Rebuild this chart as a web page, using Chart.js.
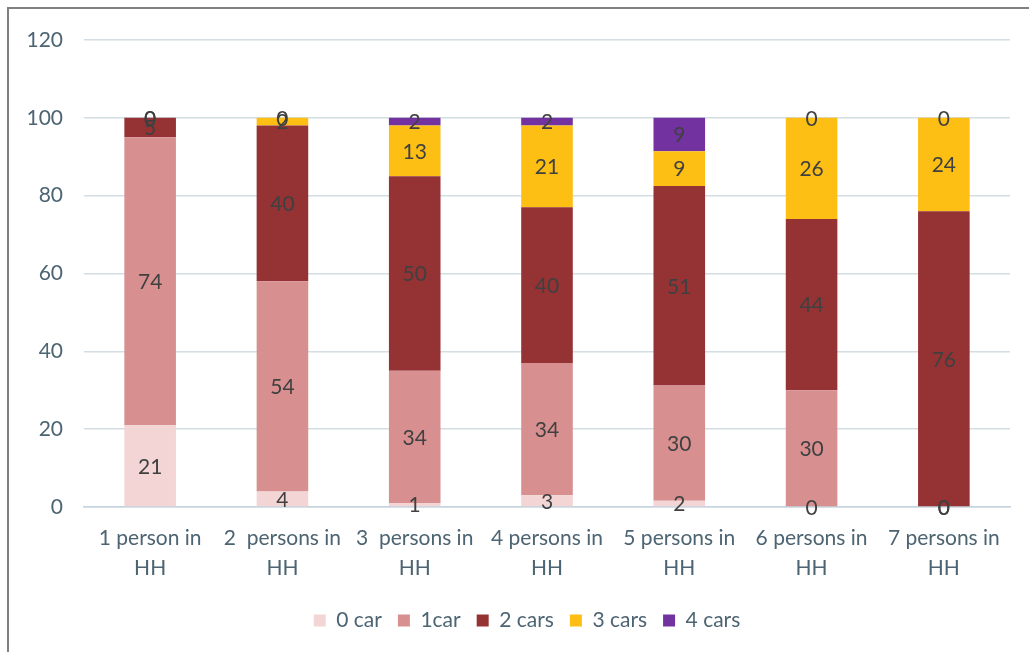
<!DOCTYPE html>
<html>
<head>
<meta charset="utf-8">
<script src="https://cdn.jsdelivr.net/npm/chart.js@4.4.1/dist/chart.umd.min.js"></script>
<style>
  html, body { margin: 0; padding: 0; background: #fff; }
  #wrap { position: relative; width: 1029px; height: 652px; overflow: hidden; }
  #frame { position: absolute; left: 7px; top: 7px; width: 1040px; height: 700px;
           border-left: 2px solid #808080; border-top: 2px solid #808080; pointer-events: none; }
  #box { position: absolute; left: 0; top: 0; width: 1029px; height: 652px; }
</style>
</head>
<body>
<div id="wrap">
  <div id="box"><canvas id="carsChart"></canvas></div>
  <div id="frame"></div>
</div>
<script>
const categories = [
  ["1 person in", "HH"],
  ["2  persons in", "HH"],
  ["3  persons in", "HH"],
  ["4 persons in", "HH"],
  ["5 persons in", "HH"],
  ["6 persons in", "HH"],
  ["7 persons in", "HH"],
];
const seriesNames = ["0 car", "1car", "2 cars", "3 cars", "4 cars"];
// shares in %, labels are shown rounded
const car0 = [21, 4, 1, 3, 1.6, 0, 0];
const car1 = [74, 54, 34, 34, 29.6, 30, 0];
const car2 = [5, 40, 50, 40, 51.3, 44, 76];
const car3 = [0, 2, 13, 21, 8.9, 26, 24];
const car4 = [0, 0, 2, 2, 8.6, 0, 0];
const yTicks = [0, 20, 40, 60, 80, 100, 120];

const colors = ["#f3d5d5", "#d88f90", "#943234", "#fdbf13", "#7232a0"];
const textColor = "#4d6472";
const font = "Lato, 'Liberation Sans', sans-serif";

// draws the value in the middle of every segment
const segmentLabels = {
  id: "segmentLabels",
  afterDatasetsDraw(chart) {
    const ctx = chart.ctx;
    ctx.save();
    ctx.font = "21px " + font;
    ctx.fillStyle = "#404040";
    ctx.textAlign = "center";
    ctx.textBaseline = "middle";
    chart.data.datasets.forEach((ds, i) => {
      const meta = chart.getDatasetMeta(i);
      meta.data.forEach((bar, j) => {
        const y = (bar.y + bar.base) / 2;
        ctx.fillText(String(Math.round(ds.data[j])), bar.x, y + 1);
      });
    });
    ctx.restore();
  },
};

// the legend sits a bit right of the canvas centre in the original
const legendShift = {
  id: "legendShift",
  afterLayout(chart) {
    if (chart.legend) {
      chart.legend.left += 22;
      chart.legend.right += 22;
    }
  },
};

new Chart(document.getElementById("carsChart"), {
  type: "bar",
  data: {
    labels: categories,
    datasets: [car0, car1, car2, car3, car4].map((d, i) => ({
      label: seriesNames[i],
      data: d,
      backgroundColor: colors[i],
      borderWidth: 0,
      barPercentage: 1,
      categoryPercentage: 0.39,
    })),
  },
  options: {
    responsive: true,
    maintainAspectRatio: false,
    animation: false,
    layout: { padding: { top: 40, right: 19, left: 0, bottom: 11 } },
    scales: {
      x: {
        stacked: true,
        grid: { display: false, drawTicks: false },
        border: { display: true, color: "#c6d3dc", width: 1.5 },
        ticks: {
          color: textColor,
          font: { family: font, size: 21, lineHeight: 1.43 },
          padding: 16,
          maxRotation: 0,
          autoSkip: false,
        },
        afterFit(scale) { scale.height = 87; },
      },
      y: {
        stacked: true,
        min: 0,
        max: 120,
        afterBuildTicks(scale) { scale.ticks = yTicks.map((v) => ({ value: v })); },
        grid: { color: "#d3dde4", lineWidth: 1.5, drawTicks: false },
        border: { display: false },
        ticks: { color: textColor, font: { family: font, size: 21 }, padding: 21 },
        afterFit(scale) { scale.width = 84; },
      },
    },
    plugins: {
      legend: {
        position: "bottom",
        labels: {
          color: textColor,
          font: { family: font, size: 21 },
          boxWidth: 12,
          boxHeight: 12,
          padding: 16,
        },
      },
      tooltip: { enabled: false },
    },
  },
  plugins: [segmentLabels, legendShift],
});
</script>
</body>
</html>
